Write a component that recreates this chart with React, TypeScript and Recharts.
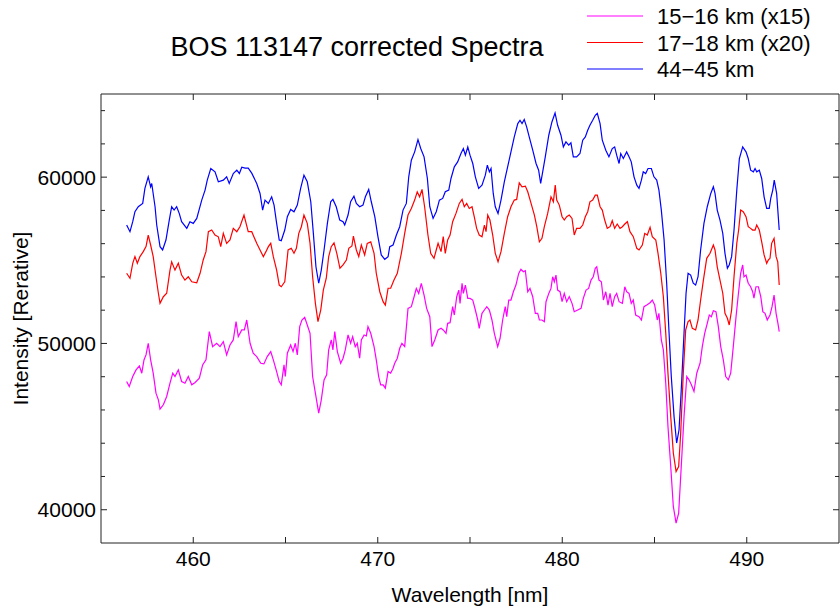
import { LineChart, Line, XAxis, YAxis } from 'recharts';

type Point = [number, number];

// [wavelength nm, intensity]
const magentaSpectrum: Point[] = [
  [456.39, 47710], [456.53, 47410], [456.72, 48010], [456.9, 48410], [457.08, 48650], [457.21, 48210],
  [457.33, 49010], [457.44, 49310], [457.56, 50010], [457.69, 49010], [457.83, 48210], [457.98, 47010],
  [458.11, 46610], [458.2, 46050], [458.38, 46310], [458.56, 46810], [458.74, 47610], [458.89, 48210],
  [459.01, 48010], [459.19, 48410], [459.37, 47710], [459.55, 47610], [459.73, 48010], [459.92, 47510],
  [460.1, 47650], [460.33, 47910], [460.51, 48710], [460.69, 49010], [460.87, 50710], [461.05, 49810],
  [461.27, 50010], [461.45, 49810], [461.63, 50110], [461.81, 49310], [461.99, 49910], [462.17, 50210],
  [462.32, 51310], [462.44, 50410], [462.63, 50810], [462.77, 50810], [462.9, 51410], [463.08, 50010],
  [463.25, 49410], [463.44, 49210], [463.66, 48810], [463.83, 48770], [464.01, 49210], [464.2, 49510],
  [464.34, 49010], [464.52, 48310], [464.66, 47710],
  [464.77, 47510], [464.92, 48710], [464.99, 48010], [465.1, 49410], [465.28, 49910], [465.41, 49510],
  [465.53, 50010], [465.64, 49310], [465.77, 51010], [465.89, 51410], [466.04, 51570], [466.18, 51110],
  [466.33, 50610], [466.47, 48010], [466.62, 47010], [466.8, 45810], [466.94, 46610], [467.09, 47810],
  [467.23, 48110], [467.34, 49610], [467.48, 50210], [467.57, 49610], [467.67, 50710], [467.81, 49510],
  [467.99, 48810], [468.12, 49110], [468.24, 49610], [468.39, 50510], [468.53, 50010], [468.64, 50410],
  [468.78, 49810], [468.89, 50010], [469.02, 49110], [469.11, 50210], [469.26, 50510], [469.38, 50450],
  [469.47, 51010], [469.62, 50610], [469.8, 49810], [469.92, 49010], [470.05, 48010], [470.16, 47510],
  [470.29, 47510], [470.41, 47310], [470.56, 48310], [470.7, 48210], [470.83, 48510], [470.92, 48810],
  [471.06, 49110], [471.19, 49710], [471.31, 50010], [471.46, 49810], [471.64, 52110], [471.82, 52210],
  [471.97, 52810], [472.09, 53310], [472.22, 53010], [472.36, 53610], [472.51, 52910], [472.65, 52110],
  [472.82, 51610], [472.94, 49810], [473.09, 50210], [473.27, 50810],
  [473.43, 50910], [473.55, 50810], [473.7, 50610], [473.79, 51210], [473.92, 51250], [474.06, 52210],
  [474.15, 51710], [474.28, 52810], [474.39, 53210], [474.46, 52410], [474.57, 53610], [474.64, 53010],
  [474.75, 53510], [474.88, 52710], [475.0, 52710], [475.15, 52610], [475.29, 52010], [475.42, 51410],
  [475.5, 50910], [475.65, 51810], [475.78, 52010], [475.91, 52210], [476.05, 52010], [476.19, 51410],
  [476.32, 50610], [476.5, 49810], [476.63, 50310], [476.77, 51410], [476.91, 52210], [476.99, 51610],
  [477.1, 52610], [477.22, 52610], [477.35, 53110], [477.49, 53510], [477.64, 54210], [477.76, 54460],
  [477.89, 54310], [478.0, 54370], [478.13, 53110], [478.25, 53310], [478.4, 52810], [478.54, 51810],
  [478.67, 51810], [478.76, 51410], [478.9, 51410], [479.03, 51310], [479.12, 52510], [479.27, 53010],
  [479.39, 53310], [479.48, 54010], [479.57, 53710], [479.66, 54110], [479.75, 53210], [479.88, 53110],
  [479.99, 52510], [480.11, 53010], [480.24, 52510], [480.38, 52810], [480.53, 52410], [480.65, 51910],
  [480.84, 52010], [481.02, 52110], [481.14, 52710], [481.29, 53210], [481.43, 53310], [481.56, 53810],
  [481.68, 54010], [481.79, 54520],
  [481.87, 54610], [481.99, 53810], [482.12, 53710], [482.23, 52610], [482.36, 53110], [482.48, 52310],
  [482.59, 53010], [482.71, 52210], [482.84, 52810], [482.95, 53010], [483.08, 52510], [483.26, 52410],
  [483.39, 53410], [483.49, 53110], [483.62, 53010], [483.74, 52410], [483.85, 52610], [483.98, 51710],
  [484.16, 51610], [484.29, 51410], [484.43, 52210], [484.58, 52310], [484.76, 52450], [484.88, 52610],
  [485.01, 52310], [485.15, 51410], [485.24, 51810], [485.37, 50210], [485.48, 49610], [485.61, 47610],
  [485.73, 45000], [485.88, 42600], [486.02, 40200], [486.17, 39200], [486.31, 39800], [486.45, 42600],
  [486.6, 45600], [486.75, 48010], [486.87, 47810], [487.0, 47510], [487.14, 47110], [487.29, 48210],
  [487.47, 48810], [487.59, 49810], [487.72, 50610], [487.86, 51210], [487.97, 51710], [488.08, 51610],
  [488.19, 51970],
  [488.33, 51910], [488.46, 51010], [488.59, 49810], [488.73, 49010], [488.86, 48010], [489.0, 47810],
  [489.13, 48210], [489.27, 49810], [489.42, 51610], [489.54, 52910], [489.67, 54220], [489.78, 54720],
  [489.85, 54010], [489.96, 54110], [490.08, 53620], [490.21, 53410], [490.32, 53110], [490.39, 52720],
  [490.5, 53410], [490.63, 53410], [490.76, 52810], [490.87, 51910], [490.99, 51810], [491.11, 51410],
  [491.26, 51710], [491.37, 52210], [491.48, 52910], [491.59, 51810], [491.69, 51210], [491.76, 50710],
];

const redSpectrum: Point[] = [
  [456.39, 54220], [456.57, 53920], [456.72, 54820], [456.84, 55220], [456.97, 54820], [457.11, 55220],
  [457.29, 55520], [457.44, 55820], [457.56, 56520], [457.69, 55920], [457.83, 55220], [457.98, 54010],
  [458.11, 53020], [458.2, 52410], [458.38, 52810], [458.56, 53020], [458.74, 54410], [458.83, 54910],
  [459.01, 54410], [459.19, 54820], [459.37, 54110], [459.55, 53810], [459.73, 54010], [459.92, 53710],
  [460.19, 53650], [460.37, 54220], [460.54, 55020], [460.69, 55520], [460.82, 56720], [461.0, 56820],
  [461.18, 56520], [461.36, 56410], [461.49, 55820], [461.63, 56620], [461.81, 56020], [461.99, 56220],
  [462.17, 56920], [462.36, 56720], [462.53, 57020], [462.75, 57720], [462.98, 56720], [463.17, 56720],
  [463.44, 56020], [463.62, 55620], [463.8, 55220], [463.94, 55520], [464.07, 55820], [464.2, 56020],
  [464.34, 55220], [464.52, 54410], [464.66, 53510],
  [464.77, 53410], [464.96, 53710], [465.14, 55620], [465.31, 55720], [465.46, 55420], [465.59, 55720],
  [465.72, 56620], [465.86, 57020], [466.0, 57720], [466.18, 57220], [466.33, 56020], [466.47, 54010],
  [466.62, 52410], [466.76, 51310], [466.91, 52010], [467.05, 53210], [467.21, 53920], [467.34, 55220],
  [467.48, 55820], [467.63, 56050], [467.78, 55420], [467.95, 54520], [468.12, 54720], [468.3, 55020],
  [468.43, 55720], [468.6, 55860], [468.68, 56460], [468.84, 55620], [468.97, 55220], [469.11, 55920],
  [469.29, 55320], [469.43, 56020], [469.62, 56110], [469.8, 55420], [469.92, 54220], [470.11, 53110],
  [470.29, 52510], [470.41, 52310], [470.56, 53320], [470.7, 53320], [470.88, 53810], [471.06, 54220],
  [471.28, 55420], [471.46, 56620], [471.64, 57720], [471.82, 58120], [472.0, 58620], [472.14, 59120],
  [472.27, 58820], [472.4, 59260], [472.54, 58220], [472.72, 56520], [472.87, 55420], [473.05, 55120],
  [473.17, 55620], [473.27, 56020],
  [473.43, 55520], [473.55, 56420], [473.66, 55420], [473.79, 56220], [473.92, 56520], [474.06, 57320],
  [474.24, 57820], [474.42, 58420], [474.57, 58660], [474.69, 58220], [474.82, 58420], [474.96, 58120],
  [475.11, 58220], [475.23, 57620], [475.36, 56920], [475.5, 56520], [475.65, 56420], [475.78, 57120],
  [475.87, 56720], [475.96, 57720], [476.08, 57420], [476.23, 56520], [476.37, 55420], [476.52, 54910],
  [476.68, 55520], [476.86, 56620], [477.04, 57620], [477.22, 58220], [477.4, 58620], [477.53, 58660],
  [477.67, 59660], [477.82, 59420], [478.0, 59460], [478.13, 59120], [478.31, 58420], [478.49, 57720],
  [478.62, 57020], [478.76, 56110], [478.9, 56320], [479.03, 57020], [479.21, 57820], [479.39, 58820],
  [479.52, 58520], [479.62, 59520], [479.7, 58620], [479.84, 58320], [479.99, 57620], [480.11, 57420],
  [480.24, 57620], [480.38, 57720], [480.53, 57520], [480.65, 56520], [480.78, 56920], [480.96, 56920],
  [481.11, 57120], [481.25, 57620], [481.38, 57920], [481.5, 58520], [481.65, 58620], [481.79, 58920],
  [481.9, 58920], [482.05, 58220], [482.17, 58020], [482.3, 57420], [482.44, 56920], [482.59, 57020],
  [482.71, 57380], [482.84, 56920], [482.98, 57180], [483.13, 56920], [483.26, 57020], [483.39, 57180],
  [483.53, 57320], [483.67, 56720], [483.85, 56420], [484.04, 55720], [484.16, 55620], [484.34, 55920],
  [484.47, 56620], [484.61, 56520], [484.76, 56980], [484.88, 56420], [485.07, 56220], [485.19, 55420],
  [485.34, 54220], [485.48, 52810], [485.61, 50610], [485.73, 48210], [485.88, 45600], [486.02, 43410],
  [486.17, 42300], [486.31, 42600], [486.42, 44610], [486.56, 48210], [486.69, 50810], [486.82, 51310],
  [486.92, 51410], [487.05, 50910], [487.23, 50810], [487.36, 51410], [487.5, 52610], [487.65, 53810],
  [487.83, 55120], [488.01, 55420], [488.19, 55920],
  [488.28, 55620], [488.4, 54610], [488.55, 53810], [488.7, 53020], [488.82, 51810], [488.95, 51510],
  [489.05, 51110], [489.18, 52010], [489.31, 54010], [489.46, 56020], [489.56, 56820], [489.67, 58020],
  [489.81, 57920], [489.96, 57620], [490.08, 57020], [490.21, 56920], [490.32, 56820], [490.45, 56820],
  [490.54, 57120], [490.68, 56820], [490.81, 56110], [490.94, 55320], [491.08, 54820], [491.17, 55020],
  [491.26, 55120], [491.35, 56020], [491.48, 56320], [491.59, 55220], [491.68, 54910], [491.76, 53510],
];

const blueSpectrum: Point[] = [
  [456.39, 57120], [456.57, 56720], [456.72, 57320], [456.84, 57920], [457.02, 58220], [457.26, 58420],
  [457.38, 59320], [457.56, 60020], [457.69, 59420], [457.75, 59620], [457.93, 58220], [458.02, 57120],
  [458.2, 55820], [458.34, 55620], [458.52, 56220], [458.7, 57420], [458.83, 58220], [458.96, 58020],
  [459.1, 58220], [459.24, 57820], [459.37, 57320], [459.65, 56920], [459.82, 57320], [460.0, 57220],
  [460.19, 57520], [460.46, 58620], [460.64, 59220], [460.76, 59820], [460.95, 60520], [461.18, 60320],
  [461.36, 59720], [461.63, 59820], [461.81, 60020], [461.95, 59620], [462.17, 60220], [462.36, 60420],
  [462.5, 60220], [462.63, 60600], [462.81, 60540], [462.98, 60540], [463.17, 60240], [463.44, 59620],
  [463.62, 59020], [463.76, 58020], [463.89, 58620], [464.07, 58420], [464.25, 58820], [464.38, 58320],
  [464.52, 57220], [464.66, 56220],
  [464.77, 56180], [464.96, 56820], [465.1, 57620], [465.28, 58060], [465.46, 57920], [465.64, 58320],
  [465.82, 59320], [466.0, 60120], [466.18, 59720], [466.37, 58520], [466.51, 56620], [466.65, 54610],
  [466.8, 53620], [466.94, 54410], [467.09, 55620], [467.27, 57220], [467.45, 58520], [467.57, 58660],
  [467.75, 58220], [467.94, 57420], [468.12, 57320], [468.21, 57120], [468.39, 57720], [468.53, 58520],
  [468.71, 58860], [468.84, 58420], [469.02, 58220], [469.2, 58320], [469.33, 58820], [469.51, 59260],
  [469.65, 58520], [469.84, 57620], [470.01, 56420], [470.19, 55320], [470.38, 55060], [470.56, 55220],
  [470.65, 55820], [470.83, 55920], [471.01, 56520], [471.19, 57020], [471.37, 58020], [471.55, 58420],
  [471.68, 60020], [471.82, 61020], [472.0, 61520], [472.18, 62260], [472.33, 61720], [472.51, 61220],
  [472.69, 59920], [472.82, 58220], [473.0, 57520], [473.17, 57920], [473.27, 58320],
  [473.34, 58620], [473.52, 58720], [473.66, 59120], [473.85, 59220], [473.97, 59920], [474.15, 60620],
  [474.33, 60920], [474.51, 61420], [474.64, 61720], [474.75, 61320], [474.88, 61820], [475.0, 61320],
  [475.15, 60820], [475.29, 60020], [475.47, 59320], [475.65, 59520], [475.83, 60120], [475.94, 60720],
  [476.05, 60320], [476.14, 60520], [476.26, 59020], [476.37, 58220], [476.52, 57820], [476.68, 58620],
  [476.86, 59720], [477.04, 60620], [477.22, 61520], [477.4, 62420], [477.59, 63220], [477.71, 63420],
  [477.82, 63220], [477.94, 63470], [478.07, 63020], [478.21, 62420], [478.4, 61620], [478.58, 60820],
  [478.72, 60420], [478.83, 59620], [478.94, 60320], [479.08, 61220], [479.27, 62520], [479.44, 63320],
  [479.61, 63860], [479.75, 63120], [479.93, 62520], [480.06, 61820], [480.2, 62120], [480.35, 61920],
  [480.47, 62060], [480.6, 61220], [480.78, 61220], [480.96, 61420], [481.11, 62220], [481.25, 62420],
  [481.38, 62820], [481.5, 63120], [481.65, 63420], [481.79, 63720],
  [481.9, 63830], [482.05, 63220], [482.17, 62220], [482.36, 61620], [482.53, 61220], [482.71, 61720],
  [482.84, 61820], [482.95, 61320], [483.08, 60820], [483.17, 61420], [483.31, 61120], [483.49, 61520],
  [483.62, 61220], [483.74, 60920], [483.89, 60020], [484.04, 59520], [484.16, 59320], [484.29, 59820],
  [484.39, 60320], [484.52, 60220], [484.65, 60520], [484.83, 60520], [484.97, 60020], [485.12, 59820],
  [485.24, 59220], [485.37, 58020], [485.52, 56220], [485.66, 53620], [485.79, 50610], [485.91, 48010],
  [486.06, 45600], [486.2, 44010], [486.33, 44810], [486.45, 47210], [486.6, 50610], [486.71, 53020],
  [486.82, 54220], [486.96, 54110], [487.1, 53620], [487.23, 53510], [487.36, 54010], [487.5, 55620],
  [487.68, 57220], [487.86, 58220], [488.05, 59020], [488.19, 59420],
  [488.28, 59020], [488.4, 58020], [488.55, 57420], [488.7, 56620], [488.82, 55420], [488.95, 54520],
  [489.05, 54720], [489.18, 55220], [489.31, 56820], [489.46, 59220], [489.6, 61120], [489.78, 61820],
  [489.96, 61520], [490.08, 61120], [490.21, 60420], [490.36, 60320], [490.45, 60520], [490.54, 60320],
  [490.68, 60420], [490.81, 59920], [490.94, 58820], [491.08, 58120], [491.22, 58120], [491.3, 58720],
  [491.41, 59220], [491.49, 59820], [491.62, 59020], [491.76, 56820],
];

const xDomain = [455, 495];
const yDomain = [38000, 65000];
const xTicks = [460, 465, 470, 475, 480, 485, 490];
const xLabels = [460, 470, 480, 490];
const yTicks = [40000, 42000, 44000, 46000, 48000, 50000, 52000, 54000, 56000, 58000, 60000, 62000, 64000];
const yLabels = [40000, 50000, 60000];

const series = [
  { name: '15\u221216 km (x15)', color: '#ff00ff', points: magentaSpectrum },
  { name: '17\u221218 km (x20)', color: '#ff0000', points: redSpectrum },
  { name: '44\u221245 km', color: '#0000ff', points: blueSpectrum },
];

const FONT = '"Liberation Sans", Arial, sans-serif';
const FRAME = '#222';

function BottomTick({ x, y, payload }: any) {
  return (
    <g>
      <line x1={x} y1={y} x2={x} y2={y - 6} stroke={FRAME} />
      {xLabels.includes(payload.value) && (
        <text x={x} y={y + 23} textAnchor="middle" fontSize={21} fontFamily={FONT} fill="#000">
          {payload.value}
        </text>
      )}
    </g>
  );
}

function TopTick({ x, y }: any) {
  return <line x1={x} y1={y} x2={x} y2={y + 6} stroke={FRAME} />;
}

function LeftTick({ x, y, payload }: any) {
  const major = yLabels.includes(payload.value);
  return (
    <g>
      <line x1={x} y1={y} x2={x + (major ? 6 : 4)} y2={y} stroke={FRAME} />
      {major && (
        <text x={x - 5} y={y + 7.5} textAnchor="end" fontSize={21} fontFamily={FONT} fill="#000">
          {payload.value}
        </text>
      )}
    </g>
  );
}

function RightTick({ x, y, payload }: any) {
  const major = yLabels.includes(payload.value);
  return <line x1={x} y1={y} x2={x - (major ? 6 : 4)} y2={y} stroke={FRAME} />;
}

function XTitle({ viewBox }: any) {
  const vb = viewBox ?? { x: 101, y: 543, width: 738 };
  return (
    <text x={vb.x + vb.width / 2} y={vb.y + 59} textAnchor="middle" fontSize={21} fontFamily={FONT} fill="#000">
      Wavelength [nm]
    </text>
  );
}

function YTitle({ viewBox }: any) {
  const vb = viewBox ?? { x: 0, y: 94, height: 449 };
  const cy = vb.y + vb.height / 2;
  return (
    <text transform={`translate(28, ${cy}) rotate(-90)`} textAnchor="middle" fontSize={21} fontFamily={FONT} fill="#000">
      Intensity [Rerative]
    </text>
  );
}

export default function App() {
  return (
    <div style={{ position: 'absolute', left: 0, top: 0, width: 840, height: 608, background: '#fff' }}>
      <LineChart width={840} height={608} margin={{ top: 93, right: 0, bottom: 0, left: 0 }}>
        <XAxis
          xAxisId="bottom"
          type="number"
          dataKey="wl"
          domain={xDomain}
          allowDataOverflow
          ticks={xTicks}
          interval={0}
          height={65}
          tickSize={0}
          tickMargin={0}
          tickLine={false}
          axisLine={{ stroke: FRAME }}
          tick={BottomTick}
          label={<XTitle />}
        />
        <XAxis
          xAxisId="top"
          orientation="top"
          type="number"
          dataKey="wl"
          domain={xDomain}
          allowDataOverflow
          ticks={xTicks}
          interval={0}
          height={1}
          tickSize={0}
          tickMargin={0}
          tickLine={false}
          axisLine={{ stroke: FRAME }}
          tick={TopTick}
        />
        <YAxis
          yAxisId="left"
          type="number"
          domain={yDomain}
          allowDataOverflow
          ticks={yTicks}
          interval={0}
          width={101}
          tickSize={0}
          tickMargin={0}
          tickLine={false}
          axisLine={{ stroke: FRAME }}
          tick={LeftTick}
          label={<YTitle />}
        />
        <YAxis
          yAxisId="right"
          orientation="right"
          type="number"
          domain={yDomain}
          allowDataOverflow
          ticks={yTicks}
          interval={0}
          width={1}
          tickSize={0}
          tickMargin={0}
          tickLine={false}
          axisLine={{ stroke: FRAME }}
          tick={RightTick}
        />
        {series.map(s => (
          <Line
            key={s.name}
            xAxisId="bottom"
            yAxisId="left"
            name={s.name}
            data={s.points.map(([wl, v]) => ({ wl, v }))}
            dataKey="v"
            type="linear"
            stroke={s.color}
            strokeWidth={1.2}
            dot={false}
            activeDot={false}
            isAnimationActive={false}
          />
        ))}
      </LineChart>
      <svg width={840} height={94} style={{ position: 'absolute', left: 0, top: 0, pointerEvents: 'none' }}>
        <text x={357} y={56} textAnchor="middle" fontSize={27} fontFamily={FONT} fill="#000">
          BOS 113147 corrected Spectra
        </text>
        {series.map((s, i) => {
          const cy = 16 + i * 26.5;
          return (
            <g key={s.name}>
              <line x1={587} y1={cy} x2={643} y2={cy} stroke={s.color} strokeWidth={1.2} />
              <text x={657} y={cy + 8} fontSize={22} fontFamily={FONT} fill="#000">
                {s.name}
              </text>
            </g>
          );
        })}
      </svg>
    </div>
  );
}
